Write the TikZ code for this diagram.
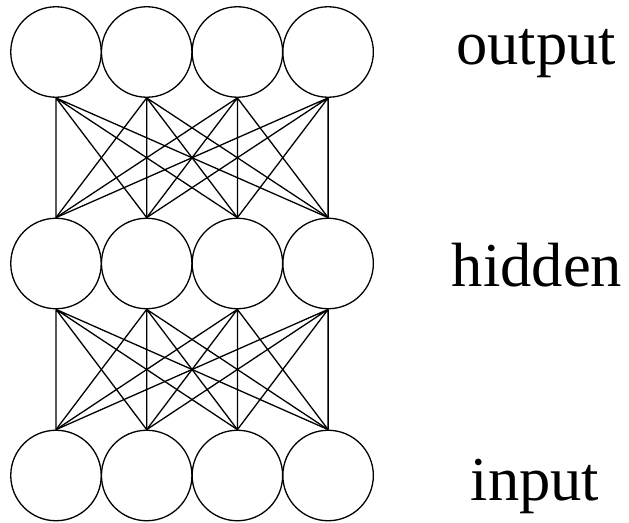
\documentclass[tikz,border=0pt]{standalone}
\usepackage{fontspec}
\setmainfont{Liberation Serif}
\begin{document}
\begin{tikzpicture}
[x=1pt, y=1pt, node distance=90.7pt, line width=1.3pt]
\tikzstyle{neuron}=[circle, draw, fill=white, inner sep=0mm, minimum size=90.5pt]
\tikzstyle{layername}=[anchor=base, inner sep=0mm, font=\fontsize{62.5}{75}\selectfont]
\tikzstyle{edge}=[line width=1.3pt]
\useasboundingbox (0,0) rectangle (629,522);

\node[neuron]	(o1)	at (56,470) {};
\node[neuron]	(o2)	[right of=o1] {};
\node[neuron]	(o3)	[right of=o2] {};
\node[neuron]	(o4)	[right of=o3] {};

\node[neuron]	(h1)	at (56,258.5) {};
\node[neuron]	(h2)	[right of=h1] {};
\node[neuron]	(h3)	[right of=h2] {};
\node[neuron]	(h4)	[right of=h3] {};

\node[neuron]	(i1)	at (56,46.5) {};
\node[neuron]	(i2)	[right of=i1] {};
\node[neuron]	(i3)	[right of=i2] {};
\node[neuron]	(i4)	[right of=i3] {};

\node[layername]	(outname)	at (536,457) {output};
\node[layername]	(hidname)	at (537,235) {hidden};
\node[layername]	(inname)	at (535,22) {input};

% output -> hidden
\draw [edge] (o1.south)--(h1.north) (o1.south)--(h2.north) (o1.south)--(h3.north) (o1.south)--(h4.north);
\draw [edge] (o2.south)--(h1.north) (o2.south)--(h2.north) (o2.south)--(h3.north) (o2.south)--(h4.north);
\draw [edge] (o3.south)--(h1.north) (o3.south)--(h2.north) (o3.south)--(h3.north) (o3.south)--(h4.north);
\draw [edge] (o4.south)--(h1.north) (o4.south)--(h2.north) (o4.south)--(h3.north) (o4.south)--(h4.north);

% hidden -> input
\draw [edge] (h1.south)--(i1.north) (h1.south)--(i2.north) (h1.south)--(i3.north) (h1.south)--(i4.north);
\draw [edge] (h2.south)--(i1.north) (h2.south)--(i2.north) (h2.south)--(i3.north) (h2.south)--(i4.north);
\draw [edge] (h3.south)--(i1.north) (h3.south)--(i2.north) (h3.south)--(i3.north) (h3.south)--(i4.north);
\draw [edge] (h4.south)--(i1.north) (h4.south)--(i2.north) (h4.south)--(i3.north) (h4.south)--(i4.north);

\end{tikzpicture}
\end{document}
